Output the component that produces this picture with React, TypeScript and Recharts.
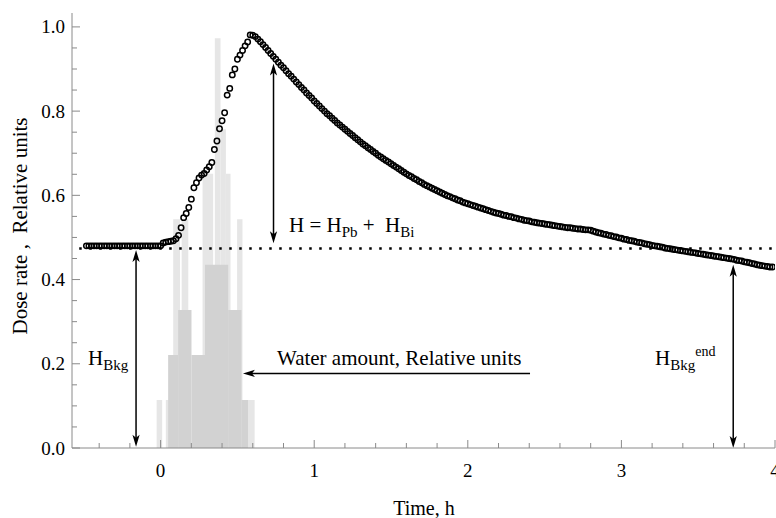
import { ComposedChart, ReferenceArea, ReferenceLine, Scatter, XAxis, YAxis } from "recharts";

const FONT = "'Liberation Serif', 'Times New Roman', serif";
const FRAME = "#8a8a8a";

// dose rate, one reading per minute, first reading 29 min before t = 0
const doseStartMinute = -29;
const doseRate = [
  0.48, 0.48, 0.48, 0.48, 0.48, 0.48, 0.48, 0.48, 0.48, 0.48,
  0.48, 0.48, 0.48, 0.48, 0.48, 0.48, 0.48, 0.48, 0.48, 0.48,
  0.48, 0.48, 0.48, 0.48, 0.48, 0.48, 0.48, 0.48, 0.48, 0.48,
  0.487, 0.489, 0.49, 0.491, 0.492, 0.497, 0.505, 0.523, 0.547, 0.557,
  0.571, 0.591, 0.618, 0.63, 0.641, 0.648, 0.652, 0.66, 0.668, 0.678,
  0.709, 0.729, 0.758, 0.777, 0.796, 0.838, 0.854, 0.886, 0.9, 0.923,
  0.933, 0.944, 0.955, 0.964, 0.981, 0.98, 0.977, 0.971, 0.965, 0.958,
  0.951, 0.944, 0.937, 0.93, 0.923, 0.916, 0.909, 0.903, 0.896, 0.889,
  0.883, 0.876, 0.869, 0.863, 0.856, 0.85, 0.843, 0.837, 0.831, 0.824,
  0.818, 0.812, 0.806, 0.8, 0.794, 0.789, 0.783, 0.778, 0.772, 0.767,
  0.762, 0.757, 0.752, 0.747, 0.742, 0.737, 0.732, 0.727, 0.722, 0.718,
  0.713, 0.709, 0.704, 0.7, 0.695, 0.691, 0.687, 0.683, 0.679, 0.675,
  0.671, 0.667, 0.663, 0.659, 0.655, 0.651, 0.647, 0.644, 0.64, 0.637,
  0.633, 0.63, 0.626, 0.623, 0.62, 0.617, 0.614, 0.611, 0.608, 0.605,
  0.602, 0.599, 0.597, 0.594, 0.592, 0.589, 0.587, 0.584, 0.582, 0.58,
  0.578, 0.576, 0.574, 0.572, 0.57, 0.568, 0.566, 0.564, 0.562, 0.56,
  0.558, 0.557, 0.555, 0.553, 0.552, 0.55, 0.549, 0.547, 0.546, 0.544,
  0.543, 0.541, 0.54, 0.539, 0.537, 0.536, 0.535, 0.534, 0.533, 0.532,
  0.531, 0.53, 0.529, 0.528, 0.527, 0.526, 0.525, 0.524, 0.523, 0.523,
  0.522, 0.521, 0.52, 0.52, 0.519, 0.518, 0.518, 0.517, 0.515, 0.513,
  0.511, 0.51, 0.508, 0.507, 0.505, 0.504, 0.502, 0.501, 0.499, 0.498,
  0.496, 0.495, 0.493, 0.492, 0.491, 0.489, 0.488, 0.487, 0.485, 0.484,
  0.483, 0.481, 0.48, 0.479, 0.478, 0.477, 0.475, 0.474, 0.473, 0.472,
  0.471, 0.47, 0.469, 0.468, 0.467, 0.466, 0.465, 0.464, 0.463, 0.462,
  0.461, 0.46, 0.459, 0.458, 0.457, 0.456, 0.455, 0.454, 0.453, 0.452,
  0.451, 0.45, 0.449, 0.448, 0.446, 0.445, 0.444, 0.442, 0.441, 0.44,
  0.438, 0.437, 0.435, 0.434, 0.433, 0.432, 0.431, 0.43, 0.43,
];

// water amount: narrow bins (light) drawn behind the coarse envelope (dark)
const waterFineFrom = [-0.026, 0.034, 0.082, 0.137, 0.273, 0.353, 0.39, 0.425, 0.498, 0.568];
const waterFineTo = [0.01, 0.056, 0.126, 0.18, 0.342, 0.39, 0.425, 0.455, 0.533, 0.612];
const waterFine = [0.114, 0.114, 0.543, 0.543, 0.651, 0.973, 0.757, 0.651, 0.543, 0.114];

const waterCoarseFrom = [0.049, 0.114, 0.201, 0.289, 0.44, 0.526];
const waterCoarseTo = [0.114, 0.201, 0.289, 0.44, 0.526, 0.569];
const waterCoarse = [0.221, 0.328, 0.221, 0.435, 0.328, 0.114];

const backgroundLevel = 0.474;

const xTicks = [
  -0.4, -0.2, 0, 0.2, 0.4, 0.6, 0.8, 1, 1.2, 1.4, 1.6, 1.8, 2, 2.2, 2.4, 2.6, 2.8, 3, 3.2,
  3.4, 3.6, 3.8, 4,
];
const xMajorTicks = [0, 1, 2, 3, 4];
const yTicks = [
  0, 0.05, 0.1, 0.15, 0.2, 0.25, 0.3, 0.35, 0.4, 0.45, 0.5, 0.55, 0.6, 0.65, 0.7, 0.75, 0.8,
  0.85, 0.9, 0.95, 1,
];
const yMajorTicks = [0, 0.2, 0.4, 0.6, 0.8, 1];

const dosePoints = doseRate.map((v, i) => ({ t: (doseStartMinute + i) / 60, v }));

const isMajor = (list: number[], v: number) => list.some((m) => Math.abs(m - v) < 1e-6);

function BottomTick({ x, y, payload }: any) {
  const major = isMajor(xMajorTicks, payload.value);
  return (
    <g>
      <line x1={x} x2={x} y1={y} y2={y - (major ? 8 : 5)} stroke={FRAME} />
      {major && (
        <text x={x} y={y + 29} textAnchor="middle" fontSize={19} fontFamily={FONT} fill="#000">
          {payload.value}
        </text>
      )}
    </g>
  );
}

function TopTick({ x, y, payload }: any) {
  const major = isMajor(xMajorTicks, payload.value);
  return <line x1={x} x2={x} y1={y} y2={y + (major ? 8 : 5)} stroke={FRAME} />;
}

function LeftTick({ x, y, payload }: any) {
  const major = isMajor(yMajorTicks, payload.value);
  return (
    <g>
      <line x1={x} x2={x + (major ? 8 : 5)} y1={y} y2={y} stroke={FRAME} />
      {major && (
        <text x={x - 7} y={y + 6.5} textAnchor="end" fontSize={19} fontFamily={FONT} fill="#000">
          {payload.value.toFixed(1)}
        </text>
      )}
    </g>
  );
}

function RightTick({ x, y, payload }: any) {
  const major = isMajor(yMajorTicks, payload.value);
  return <line x1={x} x2={x - (major ? 8 : 5)} y1={y} y2={y} stroke={FRAME} />;
}

function head(tx: number, ty: number, dx: number, dy: number) {
  const L = 12;
  const N = 9;
  const W = 3.6;
  const px = -dy;
  const py = dx;
  const pts = [
    [tx, ty],
    [tx - dx * L + px * W, ty - dy * L + py * W],
    [tx - dx * N, ty - dy * N],
    [tx - dx * L - px * W, ty - dy * L - py * W],
  ];
  return <polygon points={pts.map((p) => p.join(",")).join(" ")} fill="#000" />;
}

function arrow(startHead: boolean, endHead: boolean) {
  return (props: any) => {
    const { x1, y1, x2, y2 } = props;
    const len = Math.hypot(x2 - x1, y2 - y1) || 1;
    const dx = (x2 - x1) / len;
    const dy = (y2 - y1) / len;
    const s = startHead ? 8 : 0;
    const e = endHead ? 8 : 0;
    return (
      <g>
        <line
          x1={x1 + dx * s}
          y1={y1 + dy * s}
          x2={x2 - dx * e}
          y2={y2 - dy * e}
          stroke="#000"
          strokeWidth={1.5}
        />
        {endHead && head(x2, y2, dx, dy)}
        {startHead && head(x1, y1, -dx, -dy)}
      </g>
    );
  };
}

const OpenCircle = ({ cx, cy }: any) => (
  <circle cx={cx} cy={cy} r={2.7} fill="none" stroke="#000" strokeWidth={1.5} />
);

const axisIds = { xAxisId: "x", yAxisId: "y" };

export default function App() {
  return (
    <div style={{ position: "absolute", left: 0, top: 0, width: 776, height: 518, background: "#fff" }}>
      <ComposedChart width={776} height={518} margin={{ top: 13, right: 1, bottom: 0, left: 0 }}>
        <XAxis
          xAxisId="x"
          type="number"
          dataKey="t"
          domain={[-0.577, 4]}
          allowDataOverflow
          ticks={xTicks}
          interval={0}
          height={70}
          tickSize={0}
          tickMargin={0}
          tickLine={false}
          axisLine={{ stroke: FRAME }}
          tick={<BottomTick />}
        />
        <XAxis
          xAxisId="top"
          orientation="top"
          type="number"
          domain={[-0.577, 4]}
          allowDataOverflow
          ticks={xTicks}
          interval={0}
          height={0}
          tickSize={0}
          tickMargin={0}
          tickLine={false}
          axisLine={{ stroke: FRAME }}
          tick={<TopTick />}
        />
        <YAxis
          yAxisId="y"
          type="number"
          dataKey="v"
          domain={[0, 1.033]}
          allowDataOverflow
          ticks={yTicks}
          interval={0}
          width={72}
          tickSize={0}
          tickMargin={0}
          tickLine={false}
          axisLine={{ stroke: FRAME }}
          tick={<LeftTick />}
        />
        <YAxis
          yAxisId="right"
          orientation="right"
          type="number"
          domain={[0, 1.033]}
          allowDataOverflow
          ticks={yTicks}
          interval={0}
          width={0}
          tickSize={0}
          tickMargin={0}
          tickLine={false}
          axisLine={{ stroke: FRAME }}
          tick={<RightTick />}
        />

        {waterFine.map((h, i) => (
          <ReferenceArea
            key={`f${i}`}
            {...axisIds}
            x1={waterFineFrom[i]}
            x2={waterFineTo[i]}
            y1={0}
            y2={h}
            fill="#e6e6e6"
            fillOpacity={1}
            stroke="none"
          />
        ))}
        {waterCoarse.map((h, i) => (
          <ReferenceArea
            key={`c${i}`}
            {...axisIds}
            x1={waterCoarseFrom[i]}
            x2={waterCoarseTo[i]}
            y1={0}
            y2={h}
            fill="#d2d2d2"
            fillOpacity={1}
            stroke="none"
          />
        ))}

        <ReferenceLine
          {...axisIds}
          segment={[
            { x: -0.53, y: backgroundLevel },
            { x: 4, y: backgroundLevel },
          ]}
          stroke="#000"
          strokeWidth={2.5}
          strokeDasharray="2.5 7.5"
        />

        <Scatter
          {...axisIds}
          data={dosePoints}
          dataKey="v"
          shape={<OpenCircle />}
          isAnimationActive={false}
        />

        <ReferenceLine
          {...axisIds}
          segment={[
            { x: -0.16, y: 0.003 },
            { x: -0.16, y: 0.47 },
          ]}
          shape={arrow(true, true)}
        />
        <ReferenceLine
          {...axisIds}
          segment={[
            { x: 0.735, y: 0.486 },
            { x: 0.735, y: 0.913 },
          ]}
          shape={arrow(true, true)}
        />
        <ReferenceLine
          {...axisIds}
          segment={[
            { x: 3.728, y: 0.0 },
            { x: 3.728, y: 0.435 },
          ]}
          shape={arrow(true, true)}
        />
        <ReferenceLine
          {...axisIds}
          segment={[
            { x: 2.405, y: 0.177 },
            { x: 0.536, y: 0.177 },
          ]}
          shape={arrow(false, true)}
        />
      </ComposedChart>

      <svg
        width={776}
        height={518}
        style={{ position: "absolute", left: 0, top: 0, pointerEvents: "none" }}
        fontFamily={FONT}
      >
        <text
          transform="translate(27,226) rotate(-90)"
          textAnchor="middle"
          fontSize={21}
          style={{ whiteSpace: "pre" }}
        >
          Dose rate ,  Relative units
        </text>
        <text x={424} y={515} textAnchor="middle" fontSize={20}>
          Time, h
        </text>
        <text x={289} y={232} fontSize={21} style={{ whiteSpace: "pre" }}>
          <tspan>H = H</tspan>
          <tspan fontSize={15} dy={4.5}>Pb</tspan>
          <tspan dy={-4.5}> +  H</tspan>
          <tspan fontSize={15} dy={4.5}>Bi</tspan>
        </text>
        <text x={277} y={365} fontSize={21}>
          Water amount, Relative units
        </text>
        <text x={88} y={365} fontSize={21}>
          <tspan>H</tspan>
          <tspan fontSize={15} dy={5}>Bkg</tspan>
        </text>
        <text x={655} y={365} fontSize={21}>
          <tspan>H</tspan>
          <tspan fontSize={15} dy={5}>Bkg</tspan>
          <tspan fontSize={14} dy={-14}>end</tspan>
        </text>
      </svg>
    </div>
  );
}
